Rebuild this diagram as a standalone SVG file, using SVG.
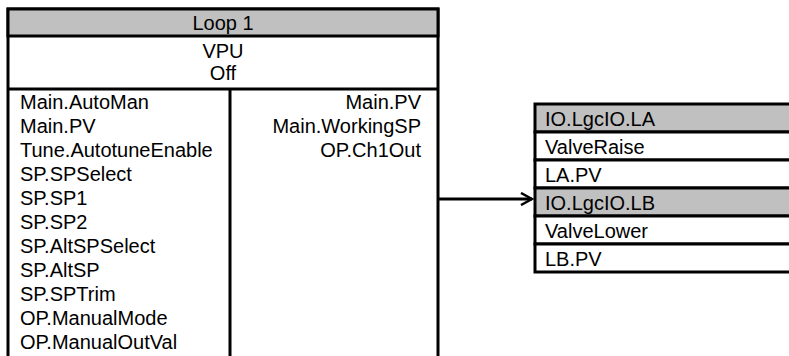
<svg xmlns="http://www.w3.org/2000/svg" width="789" height="356" viewBox="0 0 789 356">
<style>
text{font-family:"Liberation Sans",Arial,sans-serif;font-size:20px;fill:#000}
.b{fill:#fff;stroke:#000;stroke-width:3}
.h{fill:#c0c0c0;stroke:#000;stroke-width:3}
.l{stroke:#000;stroke-width:3;fill:none}
.c{text-anchor:middle}
.r{text-anchor:end}
</style>
<defs>
<marker id="arr" markerWidth="14" markerHeight="14" refX="12" refY="7" orient="auto" markerUnits="userSpaceOnUse">
<path d="M1,1 L12,7 L1,13" fill="none" stroke="#000" stroke-width="2.5"/>
</marker>
</defs>
<g id="loop1">
<rect class="b" x="8" y="9" width="430" height="360"/>
<rect class="h" x="8" y="9" width="430" height="27"/>
<line class="l" x1="8" y1="89" x2="438" y2="89"/>
<line class="l" x1="230" y1="89" x2="230" y2="370"/>
<text class="c" x="223" y="30">Loop 1</text>
<text class="c" x="223" y="58">VPU</text>
<text class="c" x="223" y="80">Off</text>
<text x="20" y="109">Main.AutoMan</text>
<text x="20" y="133">Main.PV</text>
<text x="20" y="157">Tune.AutotuneEnable</text>
<text x="20" y="181">SP.SPSelect</text>
<text x="20" y="205">SP.SP1</text>
<text x="20" y="229">SP.SP2</text>
<text x="20" y="253">SP.AltSPSelect</text>
<text x="20" y="277">SP.AltSP</text>
<text x="20" y="301">SP.SPTrim</text>
<text x="20" y="325">OP.ManualMode</text>
<text x="20" y="349">OP.ManualOutVal</text>
<text class="r" x="421" y="109">Main.PV</text>
<text class="r" x="421" y="133">Main.WorkingSP</text>
<text class="r" x="421" y="157">OP.Ch1Out</text>
</g>
<g id="lgcio">
<rect class="h" x="535" y="104" width="260" height="28"/>
<rect class="b" x="535" y="132" width="260" height="28"/>
<rect class="b" x="535" y="160" width="260" height="28"/>
<rect class="h" x="535" y="188" width="260" height="28"/>
<rect class="b" x="535" y="216" width="260" height="28"/>
<rect class="b" x="535" y="244" width="260" height="28"/>
<text x="545" y="126">IO.LgcIO.LA</text>
<text x="545" y="154">ValveRaise</text>
<text x="545" y="182">LA.PV</text>
<text x="545" y="210">IO.LgcIO.LB</text>
<text x="545" y="238">ValveLower</text>
<text x="545" y="266">LB.PV</text>
</g>
<g id="connectors">
<line class="l" x1="439" y1="199" x2="532" y2="199" marker-end="url(#arr)"/>
</g>
</svg>
